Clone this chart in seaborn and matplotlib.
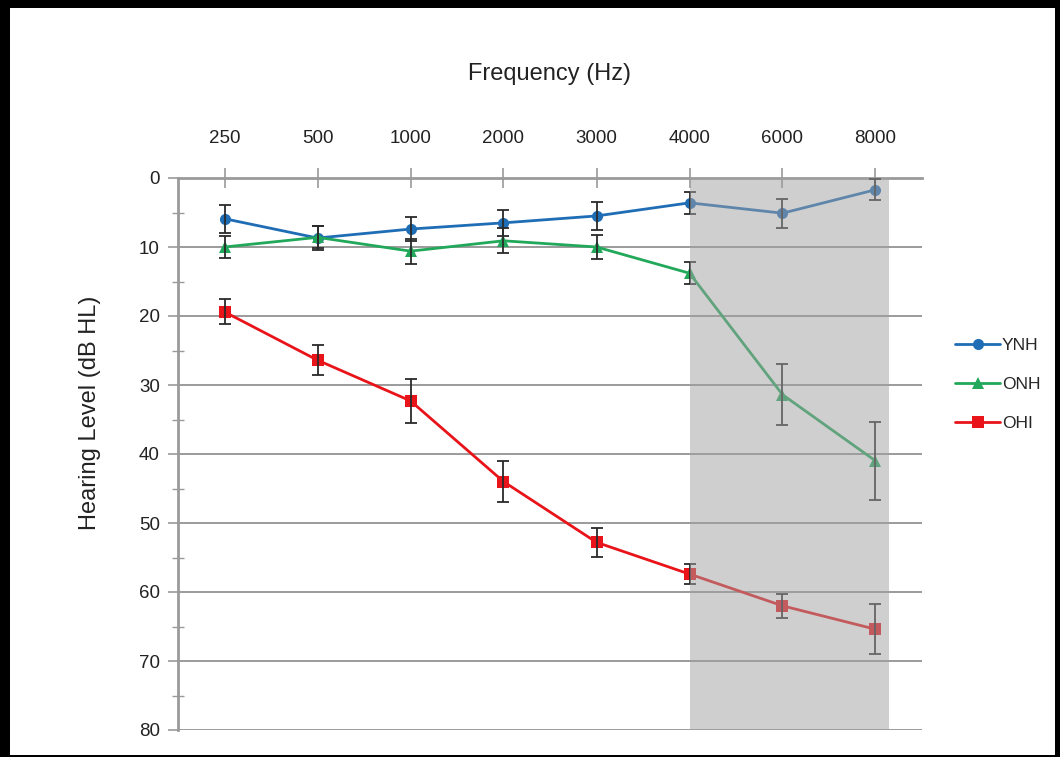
import numpy as np
import pandas as pd
import matplotlib
matplotlib.use("Agg")
import matplotlib.pyplot as plt
import seaborn as sns
from matplotlib.patches import Rectangle

freqs = ["250", "500", "1000", "2000", "3000", "4000", "6000", "8000"]
groups = ["YNH", "ONH", "OHI"]
ynh = [5.9, 8.7, 7.4, 6.5, 5.5, 3.6, 5.1, 1.7]
ynh_err = [2.0, 1.8, 1.8, 1.9, 2.0, 1.6, 2.1, 1.5]
onh = [10.0, 8.6, 10.6, 9.1, 10.0, 13.8, 31.4, 41.0]
onh_err = [1.6, 1.6, 1.8, 1.8, 1.8, 1.6, 4.4, 5.7]
ohi = [19.4, 26.4, 32.3, 44.0, 52.8, 57.4, 62.0, 65.4]
ohi_err = [1.8, 2.2, 3.2, 3.0, 2.1, 1.4, 1.7, 3.6]
colors = ["#1f6db5", "#22a85a", "#e8141a"]
markers = ["o", "^", "s"]

sns.set_theme(style="white")
plt.rcParams["font.family"] = ["Liberation Sans", "DejaVu Sans"]

pos = np.arange(len(freqs))
df = pd.DataFrame({
    "pos": np.tile(pos, 3),
    "level": ynh + onh + ohi,
    "err": ynh_err + onh_err + ohi_err,
    "group": np.repeat(groups, len(freqs)),
})

fig = plt.figure(figsize=(10.6, 7.57), dpi=100, facecolor="black")
fig.patches.append(Rectangle((10/1060, 2/757), (1055-10)/1060, (749-2)/757,
                             transform=fig.transFigure, facecolor="white",
                             edgecolor="none", zorder=-1))
ax = fig.add_axes([178/1060, 1-730/757, (922-178)/1060, (730-178)/757])
ax.set_zorder(2)
ax.set_facecolor("none")

sns.lineplot(data=df, x="pos", y="level", hue="group", style="group",
             hue_order=groups, style_order=groups, palette=colors,
             markers=markers, dashes=False, markersize=8, linewidth=2.0,
             markeredgewidth=0, ax=ax, zorder=3, legend=True)

for g in groups:
    sub = df[df["group"] == g]
    ax.errorbar(sub["pos"], sub["level"], yerr=sub["err"], fmt="none",
                ecolor="#2a2a2a", elinewidth=1.3, capsize=4, capthick=1.3,
                zorder=4)

# grey shaded region (drawn over the data, semi-transparent)
ax.axvspan(5, 7.15, color="#a0a0a0", alpha=0.5, lw=0, zorder=5)

ax.set_xlim(-0.5, 7.5)
ax.set_ylim(80, 0)
ax.set_yticks(np.arange(0, 81, 10))
ax.set_yticks(np.arange(5, 80, 10), minor=True)
ax.yaxis.grid(True, which="major", color="#8a8a8a", lw=1.2, zorder=1)
ax.xaxis.grid(False)
ax.set_axisbelow(True)

ax.xaxis.tick_top()
ax.xaxis.set_label_position("top")
ax.set_xticks(pos)
ax.set_xticklabels(freqs)
ax.tick_params(axis="x", which="major", direction="inout", length=14, width=1.2,
               color="#9a9a9a", pad=15, labelsize=13.5, top=True, bottom=False)
ax.tick_params(axis="y", which="major", direction="out", length=7, width=1.2,
               color="#9a9a9a", pad=6, labelsize=13.5, left=True)
ax.tick_params(axis="y", which="minor", direction="inout", length=8, width=1.0,
               color="#9a9a9a", left=True)
for lab in ax.get_xticklabels() + ax.get_yticklabels():
    lab.set_color("#222222")

for s in ["right", "bottom"]:
    ax.spines[s].set_visible(False)
for s in ["left", "top"]:
    ax.spines[s].set_color("#9a9a9a")
    ax.spines[s].set_linewidth(2.0)

ax.set_xlabel("Frequency (Hz)", fontsize=17, labelpad=36, color="#222222")
ax.set_ylabel("Hearing Level (dB HL)", fontsize=17, color="#222222")
ax.yaxis.set_label_coords((101 - 178) / 744, (730 - 413) / 552)

handles, labels = ax.get_legend_handles_labels()
ax.legend_.remove()
leg = fig.legend(handles, labels, loc="upper left", bbox_to_anchor=(955/1060, 1-338/757),
                 frameon=False, fontsize=12.5, handlelength=2.6, handletextpad=0.1,
                 labelspacing=1.38, borderaxespad=0, borderpad=0)
leg.set_zorder(3)

fig.savefig("out.png", dpi=100, facecolor="black")
